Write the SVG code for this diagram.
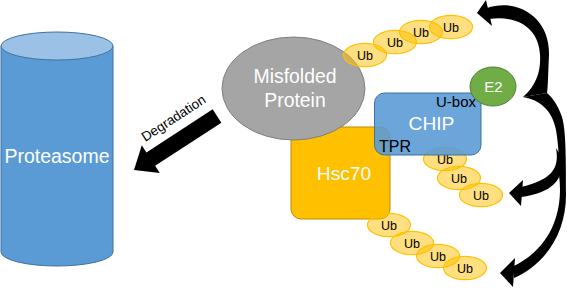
<svg xmlns="http://www.w3.org/2000/svg" width="567" height="288" viewBox="0 0 567 288">
<style>
  text { font-family: "Liberation Sans", Arial, sans-serif; }
  .w { fill: #ffffff; }
  .k { fill: #000000; }
  .ub ellipse { fill: #ffc000; fill-opacity: 0.5; stroke: #ffc000; stroke-width: 1.2; }
  .ub text { font-size: 12.5px; fill: #000; text-anchor: middle; }
  .arr { fill: #000; }
</style>
<rect width="567" height="288" fill="#ffffff"/>

<g id="proteasome">
  <path d="M1,46 L1,252 A56,14 0 0 0 113,252 L113,46 Z" fill="#5b9bd5" stroke="#41719c" stroke-width="1"/>
  <ellipse cx="57" cy="46" rx="56" ry="14" fill="#9bc2e6" stroke="#41719c" stroke-width="1"/>
  <text x="57" y="163" class="w" font-size="19.5" text-anchor="middle">Proteasome</text>
</g>

<g id="degradation">
  <path transform="translate(134,170) rotate(-33)" d="M0,0 L20,-16.5 L20,-8 L99,-8 L99,8 L20,8 L20,16.5 Z" fill="#000"/>
  <text transform="translate(176,122) rotate(-33)" x="0" y="0" class="k" font-size="13.5" text-anchor="middle">Degradation</text>
</g>

<g id="hsc70">
  <rect x="291" y="127" width="99" height="92" rx="10" fill="#ffc000" stroke="#bc8c00" stroke-width="1"/>
  <text x="344" y="180" class="w" font-size="19.2" text-anchor="middle">Hsc70</text>
</g>

<g id="misfolded">
  <ellipse cx="293.5" cy="88.5" rx="71.5" ry="51.5" fill="#a5a5a5" stroke="#7f7f7f" stroke-width="1"/>
  <text x="295" y="83" class="w" font-size="19.4" text-anchor="middle">Misfolded</text>
  <text x="295" y="107" class="w" font-size="19.4" text-anchor="middle">Protein</text>
</g>

<g id="ub-chain-1" class="ub">
  <ellipse cx="365" cy="55" rx="21.5" ry="11.7"/>
  <text x="365" y="59.5">Ub</text>
  <ellipse cx="395" cy="42" rx="21.5" ry="11.7"/>
  <text x="395" y="46.5">Ub</text>
  <ellipse cx="421" cy="32" rx="21.5" ry="11.7"/>
  <text x="421" y="36.5">Ub</text>
  <ellipse cx="451" cy="27" rx="21.5" ry="11.7"/>
  <text x="451" y="31.5">Ub</text>
</g>

<g id="ub-chain-3" class="ub">
  <ellipse cx="389" cy="225" rx="21.5" ry="11.7"/>
  <text x="389" y="229.5">Ub</text>
  <ellipse cx="412" cy="243" rx="21.5" ry="11.7"/>
  <text x="412" y="247.5">Ub</text>
  <ellipse cx="438" cy="256" rx="21.5" ry="11.7"/>
  <text x="438" y="260.5">Ub</text>
  <ellipse cx="465" cy="268" rx="21.5" ry="11.7"/>
  <text x="465" y="272.5">Ub</text>
</g>

<g id="ub-chain-2" class="ub">
  <ellipse cx="445" cy="159" rx="21.5" ry="11.7"/>
  <text x="445" y="163.5">Ub</text>
</g>

<g id="chip">
  <rect x="374.5" y="93" width="106.5" height="62" rx="10" fill="#5b9bd5" fill-opacity="0.9" stroke="#41719c" stroke-width="1"/>
  <text x="431.5" y="130" class="w" font-size="19.2" text-anchor="middle">CHIP</text>
  <text x="476" y="107" class="k" font-size="15" text-anchor="end">U-box</text>
  <text x="379" y="152" class="k" font-size="16">TPR</text>
</g>

<g id="ub-chain-2b" class="ub">
  <ellipse cx="459" cy="178" rx="21.5" ry="11.7"/>
  <text x="459" y="182.5">Ub</text>
  <ellipse cx="481" cy="195" rx="21.5" ry="11.7"/>
  <text x="481" y="199.5">Ub</text>
</g>

<g id="e2">
  <ellipse cx="493" cy="86.5" rx="23" ry="19.5" fill="#70ad47" stroke="#507e32" stroke-width="1"/>
  <text x="493.5" y="92" class="w" font-size="15" text-anchor="middle">E2</text>
</g>

<g id="connectors">
  <path class="arr" d="M487,8 C515,-2 550,15 549,55 C548,75 548,88 547,93 L523,97 C537,85 541,70 540,55 C539,30 520,15 489,19 Z"/>
  <path class="arr" d="M477,13 L486,0 L492,26 Z"/>
  <path class="arr" d="M523,97 C540,100 552,110 556,130 C559,148 559,163 559,175 C563,205 556,245 514,266 L514,278 C550,262 566,228 566,195 C566,160 566,130 562,117 C558,105 552,97 547,93 Z"/>
  <path class="arr" d="M500,273 L515,258 L513,287 Z"/>
  <path class="arr" d="M556,148 C560,170 550,180 521,187 L521,197 C552,193 564,180 562,158 Z"/>
  <path class="arr" d="M509,193 L523,180 L521,206 Z"/>
</g>
</svg>
